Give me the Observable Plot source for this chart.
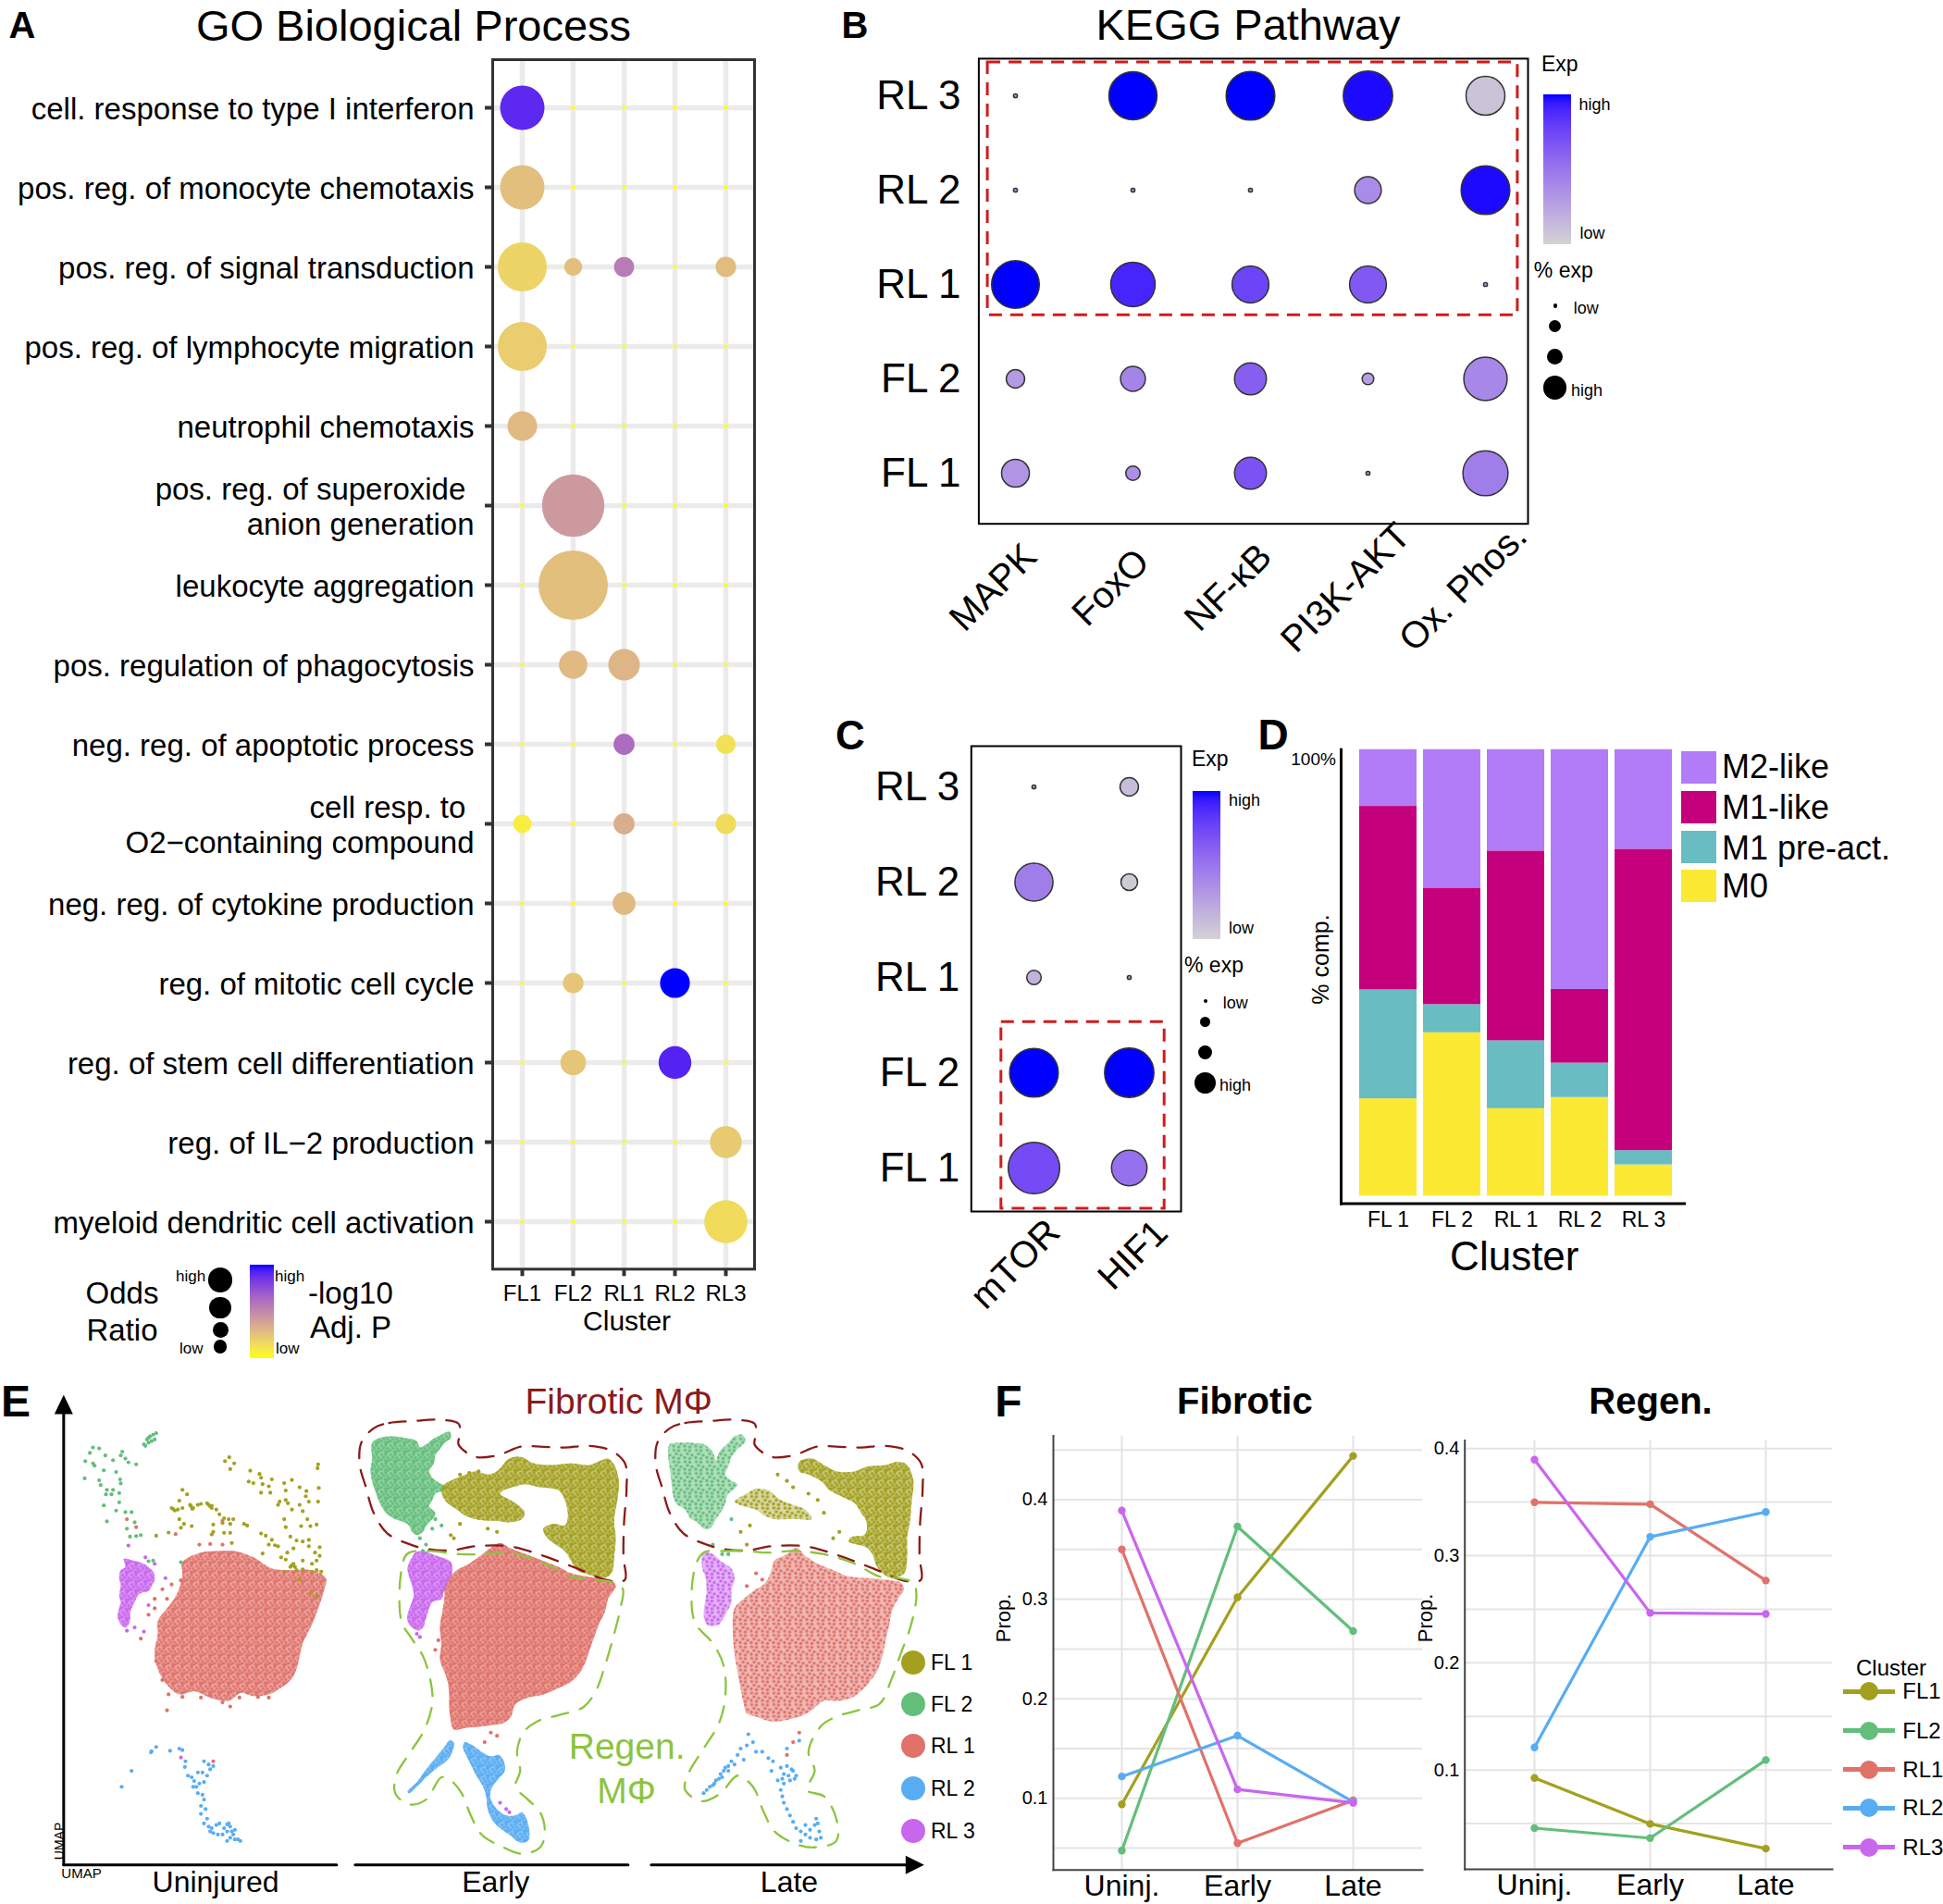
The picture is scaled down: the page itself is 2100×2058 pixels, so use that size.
<!DOCTYPE html>
<html>
<head>
<meta charset="utf-8">
<script src="https://cdn.jsdelivr.net/npm/d3@7"></script>
<script src="https://cdn.jsdelivr.net/npm/@observablehq/plot@0.6"></script>
<style>
html,body{margin:0;padding:0;background:#fff;}
#page{position:relative;width:2100px;height:2058px;overflow:hidden;background:#fff;font-family:"Liberation Sans",Arial,Helvetica,sans-serif;}
</style>
</head>
<body>
<div id="page"></div>
<script>
// ---------------- DATA ----------------
// Panel A: GO Biological Process
const clustersA = ["FL1","FL2","RL1","RL2","RL3"];
const goTerms = [
  "cell. response to type I interferon",
  "pos. reg. of monocyte chemotaxis",
  "pos. reg. of signal transduction",
  "pos. reg. of lymphocyte migration",
  "neutrophil chemotaxis",
  "pos. reg. of superoxide\u00a0\nanion generation",
  "leukocyte aggregation",
  "pos. regulation of phagocytosis",
  "neg. reg. of apoptotic process",
  "cell resp. to\u00a0\nO2\u2212containing compound",
  "neg. reg. of cytokine production",
  "reg. of mitotic cell cycle",
  "reg. of stem cell differentiation",
  "reg. of IL\u22122 production",
  "myeloid dendritic cell activation"
];
const goOddsRatio = [
  [36, 0.28, 0.28, 0.28, 0.28],
  [36, 0.28, 0.28, 0.28, 0.28],
  [44, 5.9, 7.3, 0.28, 7.7],
  [44, 0.28, 0.28, 0.28, 0.28],
  [16, 0.28, 0.28, 0.28, 0.28],
  [0.28, 71, 0.28, 0.28, 0.28],
  [0.28, 88, 0.28, 0.28, 0.28],
  [0.28, 14.7, 18.2, 0.28, 0.28],
  [0.28, 0.28, 8.1, 0.28, 7],
  [6.3, 0.28, 8.1, 0.28, 7.7],
  [0.28, 0.28, 9.6, 0.28, 0.28],
  [0.28, 7.7, 0.28, 16.2, 0.28],
  [0.28, 11.9, 0.28, 19.6, 0.28],
  [0.28, 0.28, 0.28, 0.28, 18.5],
  [0.28, 0.28, 0.28, 0.28, 34]
];
const goNegLogP = [
  [0.9, 0, 0, 0, 0],
  [0.27, 0, 0, 0, 0],
  [0.18, 0.27, 0.56, 0, 0.28],
  [0.21, 0, 0, 0, 0],
  [0.29, 0, 0, 0, 0],
  [0, 0.43, 0, 0, 0],
  [0, 0.27, 0, 0, 0],
  [0, 0.29, 0.31, 0, 0],
  [0, 0, 0.62, 0, 0.13],
  [0.07, 0, 0.34, 0, 0.15],
  [0, 0, 0.29, 0, 0],
  [0, 0.24, 0, 1.0, 0],
  [0, 0.24, 0, 0.92, 0],
  [0, 0, 0, 0, 0.22],
  [0, 0, 0, 0, 0.15]
];

// Panel B: KEGG
const keggRows = ["RL 3","RL 2","RL 1","FL 2","FL 1"];
const pathways = ["MAPK","FoxO","NF-\u03baB","PI3K-AKT","Ox. Phos."];
const keggPctExp = [
  [0.5, 75, 77, 79, 49],
  [0.5, 0.5, 0.5, 23, 77],
  [74, 64, 44, 44, 0.5],
  [11, 20, 33, 4.4, 61],
  [25, 6.6, 33, 0.5, 66]
];
const keggExp = [
  [0.3, 1.0, 1.0, 0.98, 0.08],
  [0.3, 0.3, 0.3, 0.38, 0.98],
  [1.0, 0.9, 0.75, 0.65, 0.3],
  [0.3, 0.42, 0.62, 0.28, 0.4],
  [0.33, 0.36, 0.68, 0.3, 0.45]
];

// Panel C: mTOR / HIF1
const genesC = ["mTOR","HIF1"];
const cPctExp = [[0.5, 11],[47, 9],[6.8, 0.5],[77, 79],[86, 41]];
const cExp = [[0.3, 0.12],[0.45, 0.04],[0.18, 0.3],[1, 1],[0.72, 0.52]];

// Panel D: composition
const clustersD = ["FL 1","FL 2","RL 1","RL 2","RL 3"];
const statesD = ["M2-like","M1-like","M1 pre-act.","M0"];
const colorsD = ["#b27bf7","#c4007c","#69bdc2","#fbe934"];
const compM0 = [0.218, 0.366, 0.196, 0.221, 0.070];
const compPre = [0.244, 0.063, 0.152, 0.077, 0.032];
const compM1 = [0.411, 0.261, 0.425, 0.165, 0.675];
const compM2 = [0.127, 0.310, 0.227, 0.537, 0.223];

// Panel F: proportions
const timesF = ["Uninj.","Early","Late"];
const clustersF = ["FL1","FL2","RL1","RL2","RL3"];
const colorsF = ["#a3a01f","#63be7b","#e0726a","#58acf2","#c966ee"];
const fibroticProp = [
  [0.094, 0.302, 0.444],
  [0.0475, 0.373, 0.268],
  [0.350, 0.055, 0.098],
  [0.122, 0.163, 0.0965],
  [0.389, 0.109, 0.0955]
];
const regenProp = [
  [0.0926, 0.0497, 0.0266],
  [0.0457, 0.0364, 0.1093],
  [0.3498, 0.348, 0.2768],
  [0.121, 0.3176, 0.3408],
  [0.3896, 0.2466, 0.2456]
];

// Panel E: UMAP (read-off shapes in UMAP units)
const uninjRL1 = [[41,-57.5],[47,-54.5],[52,-54],[58,-54],[64,-56],[70,-59.5],[76,-60],[83,-60],[87.5,-62.5],[87,-66],[85,-72],[83,-77],[80,-83],[79,-87],[78,-91],[76,-94.5],[72,-97.5],[69,-99],[64,-99.5],[60,-98.5],[56,-101],[50,-100],[45,-98],[40,-99],[36,-96],[33,-91],[32,-86],[33,-80],[33,-76],[36,-72],[39,-68],[41,-62]];
const uninjRL3 = [[22,-56.5],[25,-57],[28,-57.8],[30,-59],[31.5,-60.5],[32,-63],[31,-65],[30,-66.5],[28,-67],[26.5,-68],[25.5,-70],[24.5,-72],[24,-74],[24,-76],[22.5,-78],[21,-77],[20,-74.5],[20.5,-72],[21,-70],[20.5,-68],[21,-65],[20.5,-62],[21,-60],[22.5,-59]];
const uninjFL2pts = [[29.5,-19],[30.5,-18],[31.5,-17.5],[32,-19],[30,-20],[28.5,-20.5],[31,-19.5],[29,-21],[32.5,-17],[30,-18.5],[12,-21.5],[14,-21.8],[11,-23.2],[16,-24],[18.5,-25.5],[21,-24],[21.5,-22.8],[22.5,-25],[23.5,-26.2],[26,-26.8],[9.5,-25.8],[12,-26.5],[12.5,-27.2],[15.5,-28.7],[19.5,-29.2],[9.3,-31.2],[14,-31.8],[20.8,-31.5],[21,-32.8],[14.5,-33.3],[16.5,-34.8],[18.5,-34.8],[18,-36.2],[16.2,-36.2],[20.5,-35.8],[15.5,-39.7],[20.5,-38.7],[19.5,-41.3],[22.5,-41.8],[24.5,-41.8],[16.5,-44.7],[23,-47],[25.5,-45],[24,-49.5],[26,-49.3],[27.5,-49],[30,-57.2],[31.5,-57],[40.5,-57.5]];
const uninjFL1pts = [[54.8,-25.8],[56.2,-24.6],[57.8,-26.5],[56.5,-28.3],[63,-28.8],[66,-29.8],[66.5,-31],[62.5,-32.2],[64,-32.7],[67,-33],[69,-33.7],[70,-31.5],[66.5,-35.7],[69.5,-35.7],[74,-32.7],[76.5,-31.7],[74.5,-35],[79,-34],[81.2,-35.2],[85,-26.8],[84.8,-28],[85.2,-34.2],[41,-34.8],[42.5,-36.2],[40,-38.2],[37.5,-40.5],[39.5,-41],[41,-40.5],[43.5,-39.5],[44.5,-40.5],[46,-39.5],[47,-39.2],[49,-39],[50.5,-39.8],[52,-41],[53,-42.5],[54.5,-43.7],[56,-44],[57.5,-44],[54,-45.2],[56.5,-45.5],[61,-45.5],[62,-46],[40,-44],[41.5,-45.5],[40.5,-46.7],[44,-46.2],[51,-45.7],[51,-48],[54.5,-48.3],[56.5,-48.3],[50.5,-48.8],[57,-51.5],[32.5,-49.2],[36.5,-48.2],[72,-39.5],[72.5,-38.5],[74.5,-38],[75.2,-39],[76.5,-41],[79,-39.5],[80,-41.5],[82,-38.5],[81,-36.8],[85,-38.5],[81.5,-44],[79.5,-46.2],[82.5,-46.2],[84.5,-45.7],[74,-44],[74.5,-46.5],[66.5,-48.5],[68,-49.2],[70,-50.5],[71,-52.2],[69,-52],[72,-52.5],[76,-49.5],[78,-50.7],[80,-51],[82,-50.5],[82,-52.5],[77,-53.2],[75,-54.5],[73,-56],[74.5,-56.7],[67,-54.8],[85.5,-52.8],[84,-54.5],[85.5,-55.5],[84.5,-57],[80,-57],[77,-58],[76,-59],[78,-60],[80,-59.8],[83,-58],[84.5,-60],[86,-60.5],[74,-60.5],[79,-63],[83,-60.5],[82.5,-67.2],[84.5,-68.2],[43.8,-40],[44.2,-40.8],[50,-40],[50.5,-40.5],[49.5,-39.5],[38,-40.8],[38.5,-41.3],[76.5,-58.5],[77.5,-59]];
const uninjRL3pts = [[23.5,-52.3],[29,-56],[32,-58],[35.5,-62.5],[30,-71],[28.5,-79.3],[23,-79],[25.5,-78],[40.5,-118.8]];
const uninjRL1pts = [[46.5,-52],[50,-51.8],[54,-52],[40.5,-63.2],[34.5,-66],[36,-69],[37.5,-64.5],[32,-69],[32,-72],[30,-74],[27.5,-81.5],[36,-104],[32.5,-88.5],[34.5,-94.5],[36.5,-99],[41,-99.8],[44,-95.8],[47,-100],[50,-99.2],[54,-101.5],[56.5,-102.8],[59.5,-100],[65.5,-99.8],[69,-100],[23,-44],[26,-46.5],[38.8,-48.7],[54,-44.5],[51,-120]];
const uninjRL2pts = [[31,-116.8],[32.5,-115.5],[30.8,-117.2],[37,-116.7],[40,-116],[41,-116.5],[24.5,-123],[21.3,-128],[42,-120],[41.8,-121.8],[42.8,-124.5],[44,-125],[44.8,-126.2],[46,-123.5],[47.5,-123.5],[48,-120],[49.5,-121],[51,-121.5],[50,-122.5],[49,-124.5],[46.5,-127],[48,-126.5],[44.5,-128],[45.5,-128],[46,-130],[47.5,-130.5],[48,-132],[47,-134],[48.5,-135],[47,-136.5],[49,-138],[48,-139.5],[49.5,-140.5],[50.5,-141],[51,-142.5],[52.5,-143],[53,-139.5],[54.5,-141],[55.5,-139.8],[56,-139.5],[56.5,-140.5],[57,-142],[57.5,-143],[58,-144.5],[59,-144.5],[59.8,-145],[55.5,-145],[54,-143],[52,-140],[50,-142],[55.5,-142],[56.5,-144],[58,-141.5]];

const earlyFL2 = [[9.5,-20],[12,-18.5],[16,-18],[20,-18.5],[24,-19.5],[25,-21.5],[27,-20.5],[29,-19],[32,-17.5],[34.5,-16.5],[35,-18.5],[33,-20],[31.5,-22],[30,-24],[29.5,-26.5],[28,-29],[29,-31],[32,-33],[34.5,-34],[33,-35],[30,-36],[29,-38],[28,-40],[30,-42],[29,-44],[27,-46],[26,-48],[24,-49],[22.5,-48],[21.5,-46],[20,-45],[17,-44],[14,-42],[12,-39],[10.5,-35],[9.5,-32],[9,-29],[9.5,-25]];
const earlyFL1 = [[33,-33],[36,-31.5],[40,-30],[43,-29],[47,-30],[50,-29],[54,-25],[58,-24.5],[62,-26.5],[68,-27],[74,-26.5],[80,-27],[84,-25.5],[86,-25],[88,-27],[89.5,-32],[89,-38],[88,-44],[88.5,-50],[88,-56],[87.5,-60],[86,-62],[83,-62.5],[80,-61.5],[76,-60],[74,-57],[72,-54],[69,-52],[66,-49.5],[65,-47],[68,-45.5],[72,-46],[73,-43],[72,-38],[70,-35],[64,-34],[59,-33],[55,-34],[52,-35],[51,-36],[56,-39],[59,-42],[58,-44],[54,-45],[50,-44.5],[47,-44.5],[43,-44],[40,-43],[37,-41],[34,-39],[32.5,-37],[32,-34.5]];
const earlyRL3 = [[23.5,-54.5],[26,-54],[29,-55],[32,-56],[35,-57.5],[35.5,-60],[34.5,-63],[33,-66],[32,-69],[29,-70],[28,-72],[27,-75],[26,-78],[24.5,-79],[22.5,-78],[21,-76],[21,-74],[22,-71],[23,-68],[22.5,-65],[21.5,-62],[21,-59],[22.5,-56]];
const earlyRL1 = [[33,-64],[37,-60],[41,-58],[44,-56],[48,-53],[51,-51.5],[54,-53],[58,-54.5],[62,-56],[66,-57.5],[70,-59],[74,-61],[79,-62],[83,-62.5],[87,-63],[88.5,-65],[86,-69],[85,-73],[83,-77],[81.5,-81],[80,-85],[79,-88],[77,-92],[74,-95],[70,-97],[65,-99],[60,-100],[56,-102],[54.5,-106],[52,-108],[49,-108.5],[45,-109],[40,-109.5],[36,-110],[35,-107],[34.5,-103],[34.5,-99],[34,-95],[33,-92],[31.5,-88],[32,-83],[31.5,-78],[32.5,-72],[33,-68]];
const earlyRL2a = [[21,-129.5],[24,-126.5],[27,-122.5],[30,-119],[33,-115.5],[34.5,-113.5],[36,-114],[35.5,-117],[34,-119.5],[30,-122.5],[27,-125],[24,-128],[21.5,-130]];
const earlyRL2b = [[39.5,-114],[42,-115],[45,-117],[48,-118.5],[50.5,-118],[52,-119.5],[52.5,-123],[50,-126],[48,-129],[48,-132],[50,-135],[53,-137],[56,-137],[58,-136],[59.5,-138],[60.5,-142],[60,-145],[57.5,-145.5],[54,-143],[51,-141],[48.5,-138.5],[47,-135],[46.5,-131],[45.5,-128],[43,-124],[41.5,-121],[40,-118],[39,-116]];
const earlyFL1pts = [[35,-49],[36,-50],[38,-45.5],[47,-47],[50,-48],[44,-29],[41,-29.5],[38,-30]];
const earlyFL2pts = [[26,-54],[27,-52],[25,-50],[30,-44],[32,-46],[29,-47]];
const earlyRL1pts = [[48,-111],[50,-112],[46,-114],[30,-85],[31,-82]];
const earlyRL3pts = [[51,-133],[53,-135],[54,-136],[24,-80],[25,-81]];
const fibroticOutline = [[10,-15.5],[15,-13.8],[23,-13.2],[31,-12.8],[37.5,-14],[38,-17],[37.5,-20.5],[40,-23],[43,-24.5],[50,-24],[58,-21.2],[65,-21.3],[72,-21.5],[80,-21],[87,-22.5],[91.5,-26.5],[92,-34.5],[91.2,-45],[91,-56],[91.5,-63],[87,-63.5],[76,-59.5],[65,-55.5],[54,-52.5],[43,-52.5],[35,-53.8],[28,-53.5],[22,-52],[14.5,-48.5],[10,-42],[7.5,-34],[5.5,-27],[6,-20]];
const earlyRegenOutline = [[21,-54.8],[28,-54],[38,-55],[46,-55],[54,-54.5],[60,-56],[68,-59],[74,-62],[80,-62.8],[88,-64],[90.8,-66],[90,-72],[88,-80],[85,-90],[82,-98],[78,-103],[70,-105.5],[63,-107.5],[58.5,-111],[56.5,-117],[57.5,-123],[56,-128],[60,-132],[64,-136],[65.5,-142],[64,-147],[58,-149],[51,-146.5],[45,-143],[41.5,-137],[38.5,-130],[35,-126],[32,-125],[27,-132],[21.5,-133.5],[17,-130],[17.5,-124],[22,-117],[26.5,-110],[29,-102],[28.5,-95],[26,-87],[22,-81],[19,-76],[19,-60]];

const lateFL2 = [[10,-20.5],[13,-20],[17,-20],[21,-20.5],[24,-23],[25,-25.5],[26,-23],[29,-20],[31,-18],[33.5,-17.5],[34.5,-19.5],[32,-22],[30,-24.5],[29,-27.5],[28,-30],[30,-32],[32,-33],[31,-34.5],[29,-36],[28,-39],[27,-41],[25,-44],[23,-47],[21,-47],[19,-45],[17,-44],[15,-41],[12,-39],[11,-36],[10.5,-32],[10,-28],[9.5,-24]];
const lateFL1a = [[31,-38.5],[35,-36],[38,-34.5],[42,-35],[46,-38],[50,-39.5],[54,-41],[56,-44],[52,-44],[48,-44],[44,-44],[41,-43],[38,-41],[34,-40]];
const lateFL1b = [[52,-26],[56,-25],[60,-27],[64,-29],[70,-29],[74,-27.5],[80,-27],[84,-26],[87,-27],[89,-32],[88.5,-38],[88,-44],[87,-50],[87,-56],[86,-61],[82,-62.5],[79,-61],[77,-58.5],[76,-55.5],[74,-53],[71,-52],[68,-51],[69,-49.5],[73,-49],[74,-47],[73.5,-44],[72,-42],[70,-39],[66,-37],[62,-35],[59,-32],[55,-30],[52,-29]];
const lateRL3 = [[21,-54.5],[24,-55],[27,-57.5],[30,-59.5],[31,-63],[30,-66],[30,-70],[28,-74],[26,-77],[24,-77.5],[22,-77],[21,-74],[21.5,-70],[22,-66],[21.5,-62],[20.5,-59]];
const lateRL1 = [[31,-72],[34,-69],[38,-66],[41,-64],[43,-60],[44,-57],[48,-55],[51,-53],[54,-55.5],[58,-58],[63,-60],[68,-62],[74,-62.5],[80,-63],[85,-64],[86,-66],[84,-69],[82,-73],[81,-78],[80,-82],[79,-87],[77,-92],[74,-96],[70,-99.5],[65,-101],[60,-101],[56,-104],[52,-106],[48,-107],[43,-107.5],[38,-106],[35,-105],[34,-102],[33,-97],[32,-92],[31,-86],[30.5,-80]];
const lateRL2pts = [[21,-130],[23,-128],[25,-126],[26.5,-124],[28,-122],[30,-120],[32,-118],[33,-116],[35,-115],[35.5,-111.5],[37,-114],[38,-117],[34,-119.5],[31,-121],[29,-123],[27,-125],[24.5,-127],[40,-117],[42,-119],[43.5,-120],[43,-123],[46,-122],[48,-121.5],[50,-123],[51,-124.5],[49,-126],[47,-127],[45,-126],[46,-129],[46.5,-131],[47,-133],[48,-135],[49,-137],[50,-139],[51,-141],[52.5,-142],[54,-143],[55.5,-144],[57.5,-144.5],[59,-144],[58.5,-142],[58,-139.5],[57.5,-138],[57,-140],[55.5,-141.5],[54,-140],[52.5,-145],[52,-113.5],[48,-116],[47,-124],[48.5,-124.5],[49.5,-122.5],[46.5,-125.5],[50.5,-125.5],[22,-129],[24,-127.5],[26,-125.5],[27.5,-123],[29,-121.5]];
const lateFL1pts = [[45,-30],[48,-32],[50,-34],[55,-36],[58,-38],[60,-42],[65,-48],[63,-50],[36,-46],[35,-52],[33,-48]];
const lateFL2pts = [[27,-55],[29,-55],[24,-52],[30,-44]];
const lateRL1pts = [[40,-63],[38,-61],[35,-65],[52,-111],[50,-114],[48,-118]];
const lateRegenOutline = [[21,-54.5],[28,-54],[35,-54],[42,-54.5],[50,-54],[60,-55],[70,-58],[78,-62],[84,-62.5],[89,-64],[90,-68],[88,-78],[85,-86],[82,-94],[78,-102],[71,-104],[64,-106],[59,-109],[55,-117],[57,-123],[54.5,-129],[60,-131],[64,-138],[64,-145],[57,-147],[51,-146],[44,-142],[40.5,-136],[37,-128],[32,-124.5],[26.5,-130],[20.5,-132.5],[15,-129],[16,-124],[21,-116],[26,-108],[28,-100],[27.5,-90],[24,-83],[18,-76],[18,-60]];

// ---------------- HELPERS ----------------
const FONT = '"Liberation Sans", Arial, Helvetica, sans-serif';
const page = document.getElementById("page");
const baseStyle = {background: "transparent", fontFamily: FONT, overflow: "visible", color: "#000"};
function place(node, left, top) {
  node.style.position = "absolute";
  node.style.left = left + "px";
  node.style.top = top + "px";
  node.style.maxWidth = "none";
  page.appendChild(node);
}
function label(s, x, y, size, o = {}) {
  const d = document.createElement("div");
  d.textContent = s;
  Object.assign(d.style, {position: "absolute", left: x + "px", top: y + "px", fontSize: size + "px",
    lineHeight: "1", whiteSpace: "pre", fontWeight: o.bold ? "bold" : "normal", color: o.color || "#000", fontFamily: FONT});
  const tx = o.anchor === "start" ? "0" : o.anchor === "end" ? "-100%" : "-50%";
  d.style.transform = `translate(${tx},-50%)` + (o.rotate ? ` rotate(${o.rotate}deg)` : "");
  page.appendChild(d);
}
function box(x, y, w, h, bg) {
  const d = document.createElement("div");
  Object.assign(d.style, {position: "absolute", left: x + "px", top: y + "px", width: w + "px", height: h + "px", background: bg});
  page.appendChild(d);
}
function circle(cx, cy, r, color) {
  const d = document.createElement("div");
  Object.assign(d.style, {position: "absolute", left: (cx - r) + "px", top: (cy - r) + "px", width: 2 * r + "px", height: 2 * r + "px", background: color, borderRadius: "50%"});
  page.appendChild(d);
}
function gradient(interp) {
  return "linear-gradient(to top," + d3.range(0, 1.0001, 0.05).map(t => interp(t)).join(",") + ")";
}
const yb = d3.interpolateLab("yellow", "blue");
const gb = d3.interpolateLab("lightgrey", "blue");

// ---------------- PANEL A ----------------
const goData = goTerms.flatMap((t, i) => clustersA.map((c, j) => ({term: t, cluster: c, or: goOddsRatio[i][j], p: goNegLogP[i][j]})));
place(Plot.plot({
  width: 830, height: 1450, marginLeft: 532, marginRight: 15, marginTop: 64, marginBottom: 78.7,
  style: baseStyle,
  x: {type: "point", domain: clustersA, padding: 0.57},
  y: {type: "point", domain: goTerms, padding: 0.585},
  r: {type: "sqrt", domain: [0, 100], range: [0, 40]},
  color: {type: "linear", domain: [0, 1], range: ["yellow", "blue"], interpolate: d3.interpolateLab},
  marks: [
    Plot.gridX(clustersA, {stroke: "#ebebeb", strokeOpacity: 1, strokeWidth: 5.5}),
    Plot.gridY(goTerms, {stroke: "#ebebeb", strokeOpacity: 1, strokeWidth: 5.5}),
    Plot.dot(goData, {x: "cluster", y: "term", r: "or", fill: "p"}),
    Plot.frame({stroke: "#333", strokeWidth: 3}),
    Plot.axisY({tickSize: 8, tickPadding: 12, fontSize: 33, stroke: "#333", strokeWidth: 4, label: null, lineHeight: 1.18}),
    Plot.axisX({tickSize: 8, tickPadding: 9, fontSize: 24, stroke: "#333", strokeWidth: 4, label: null})
  ]
}), 0, 0);
label("A", 24, 27, 40, {bold: true});
label("GO Biological Process", 447, 27, 47);
label("Cluster", 677.6, 1428, 30);
// legend A
label("Odds", 92.6, 1396.5, 33, {anchor: "start"});
label("Ratio", 93.5, 1436.7, 33, {anchor: "start"});
circle(238, 1383.4, 13.2, "#000");
circle(238, 1413.5, 11.9, "#000");
circle(238, 1437.7, 8.5, "#000");
circle(238, 1455.5, 7.2, "#000");
label("high", 190, 1378.6, 17, {anchor: "start"});
label("low", 194, 1457, 17, {anchor: "start"});
box(270, 1366.5, 25.5, 101, gradient(yb));
label("high", 297, 1378.6, 17, {anchor: "start"});
label("low", 298, 1457, 17, {anchor: "start"});
label("-log10", 333, 1396.5, 33, {anchor: "start"});
label("Adj. P", 335, 1434, 33, {anchor: "start"});

// ---------------- PANEL B ----------------
const keggData = keggRows.flatMap((r, i) => pathways.map((p, j) => ({row: r, path: p, pct: keggPctExp[i][j], exp: keggExp[i][j]})));
place(Plot.plot({
  width: 780, height: 720, marginLeft: 157.4, marginRight: 29, marginTop: 62.9, marginBottom: 154.3,
  style: baseStyle,
  x: {type: "point", domain: pathways, padding: 0, insetLeft: 39, insetRight: 46, axis: null},
  y: {type: "point", domain: keggRows, padding: 0, insetTop: 39.1, insetBottom: 54.7},
  r: {type: "sqrt", domain: [0, 100], range: [0, 30]},
  color: {type: "linear", domain: [0, 1], range: ["lightgrey", "blue"], interpolate: d3.interpolateLab},
  marks: [
    Plot.frame({stroke: "#000", strokeWidth: 2}),
    Plot.frame({stroke: "#d01c1c", strokeWidth: 3, strokeDasharray: "14,9", insetLeft: 9.2, insetRight: 11.6, insetTop: 3.7, insetBottom: 225.9}),
    Plot.dot(keggData, {x: "path", y: "row", r: "pct", fill: "exp", stroke: "#333", strokeWidth: 1.5}),
    Plot.axisY({tickSize: 0, tickPadding: 19.4, fontSize: 44, label: null}),
    Plot.text(pathways, {x: d => d, text: d => d, frameAnchor: "bottom", dx: -24, dy: 69, rotate: -45, fontSize: 40, textAnchor: "middle", lineAnchor: "middle"})
  ]
}), 900, 0);
label("B", 924, 27, 40, {bold: true});
label("KEGG Pathway", 1349, 26, 47);
label("Exp", 1666, 69, 23, {anchor: "start"});
box(1667.5, 102.4, 30.5, 161.6, gradient(gb));
label("high", 1706.6, 112.5, 18, {anchor: "start"});
label("low", 1707.6, 251.6, 18, {anchor: "start"});
label("% exp", 1657.8, 291.6, 23, {anchor: "start"});
circle(1680.7, 330.6, 2.2, "#000");
circle(1680.7, 352.7, 6.5, "#000");
circle(1680.7, 385.7, 8.6, "#000");
circle(1680.7, 419, 12.6, "#000");
label("low", 1700.8, 333, 18, {anchor: "start"});
label("high", 1698, 421.5, 18, {anchor: "start"});

// ---------------- PANEL C ----------------
const cData = keggRows.flatMap((r, i) => genesC.map((g, j) => ({row: r, gene: g, pct: cPctExp[i][j], exp: cExp[i][j]})));
place(Plot.plot({
  width: 420, height: 700, marginLeft: 169.3, marginRight: 24, marginTop: 46, marginBottom: 151,
  style: baseStyle,
  x: {type: "point", domain: genesC, padding: 0, insetLeft: 67.7, insetRight: 55.3, axis: null},
  y: {type: "point", domain: keggRows, padding: 0, insetTop: 43.3, insetBottom: 46.8},
  r: {type: "sqrt", domain: [0, 100], range: [0, 30]},
  color: {type: "linear", domain: [0, 1], range: ["lightgrey", "blue"], interpolate: d3.interpolateLab},
  marks: [
    Plot.frame({stroke: "#000", strokeWidth: 2}),
    Plot.frame({stroke: "#d01c1c", strokeWidth: 3, strokeDasharray: "14,9", insetLeft: 32, insetRight: 18.3, insetTop: 297.7, insetBottom: 3.5}),
    Plot.dot(cData, {x: "gene", y: "row", r: "pct", fill: "exp", stroke: "#333", strokeWidth: 1.5}),
    Plot.axisY({tickSize: 0, tickPadding: 12.6, fontSize: 44, label: null}),
    Plot.text(["mTOR"], {x: d => d, text: d => d, frameAnchor: "bottom", dx: -20, dy: 57, rotate: -45, fontSize: 40, textAnchor: "middle", lineAnchor: "middle"}),
    Plot.text(["HIF1"], {x: d => d, text: d => d, frameAnchor: "bottom", dx: 4, dy: 47, rotate: -45, fontSize: 40, textAnchor: "middle", lineAnchor: "middle"})
  ]
}), 880, 760);
label("C", 919, 794.5, 44, {bold: true});
label("Exp", 1288, 820.3, 23, {anchor: "start"});
box(1289, 855, 30, 160, gradient(gb));
label("high", 1328, 865, 18, {anchor: "start"});
label("low", 1328, 1003, 18, {anchor: "start"});
label("% exp", 1280, 1042.6, 23, {anchor: "start"});
circle(1302.7, 1082, 2.2, "#000");
circle(1302.7, 1104, 5.5, "#000");
circle(1302.7, 1137.7, 7.7, "#000");
circle(1302.7, 1170.7, 11.7, "#000");
label("low", 1321.7, 1083.6, 18, {anchor: "start"});
label("high", 1318, 1173, 18, {anchor: "start"});

// ---------------- PANEL D ----------------
const dData = clustersD.flatMap((c, i) => [
  {cluster: c, state: "M0", value: compM0[i]},
  {cluster: c, state: "M1 pre-act.", value: compPre[i]},
  {cluster: c, state: "M1-like", value: compM1[i]},
  {cluster: c, state: "M2-like", value: compM2[i]}
]);
place(Plot.plot({
  width: 520, height: 600, marginLeft: 129, marginRight: 20, marginTop: 49.8, marginBottom: 59.4,
  style: baseStyle,
  x: {type: "band", domain: clustersD, paddingInner: 0.103, paddingOuter: 0, insetLeft: 18, insetRight: 11},
  y: {domain: [0, 1], insetBottom: 8.2},
  color: {domain: statesD, range: colorsD},
  marks: [
    Plot.barY(dData, {x: "cluster", y: "value", fill: "state", order: ["M0", "M1 pre-act.", "M1-like", "M2-like"]}),
    Plot.frame({anchor: "left", stroke: "#000", strokeWidth: 3}),
    Plot.frame({anchor: "bottom", stroke: "#000", strokeWidth: 3}),
    Plot.axisY({ticks: [1], tickFormat: () => "100%", tickSize: 0, tickPadding: 5.6, fontSize: 19, dy: 10.6, label: null}),
    Plot.axisX({tickSize: 0, tickPadding: 8.2, fontSize: 23, label: null})
  ]
}), 1320, 760);
label("D", 1376, 793.5, 46, {bold: true});
label("% comp.", 1427, 1037.4, 25, {rotate: -90});
label("Cluster", 1636.8, 1357.7, 44);
[812, 854.7, 898, 939.5].forEach((t, i) => box(1817.4, t, 37.3, 35, colorsD[i]));
[829.4, 873.4, 917, 958].forEach((c, i) => label(statesD[i], 1861, c, 36, {anchor: "start"}));

// ---------------- PANEL E ----------------
const colE = {FL1: "#a3a01f", FL2: "#63be7b", RL1: "#e0726a", RL2: "#58acf2", RL3: "#c966ee"};
// speckle patterns (scatter texture) for dense cell clouds
const tileDense = [[2,2],[6.5,1.5],[4.2,4.8],[8.3,5],[1.4,7.2],[5.8,8.4],[8.6,8.8]];
const tileSparse = [[2,2],[7,2.5],[4.5,6],[9.5,7.5],[1.5,10],[7,11]];
page.insertAdjacentHTML("beforeend",
  `<svg width="0" height="0" style="position:absolute;left:0;top:0"><defs>` +
  Object.entries(colE).map(([k, c]) =>
    `<pattern id="pd-${k}" width="10" height="10" patternUnits="userSpaceOnUse">` +
      tileDense.map(([x, y]) => `<circle cx="${x}" cy="${y}" r="1.75" fill="${c}"/>`).join("") + `</pattern>` +
    `<pattern id="ps-${k}" width="12" height="12.5" patternUnits="userSpaceOnUse">` +
      tileSparse.map(([x, y]) => `<circle cx="${x}" cy="${y}" r="1.75" fill="${c}"/>`).join("") + `</pattern>`
  ).join("") + `</defs></svg>`);
function poly(pts, c, o, dense = true) {
  return [
    Plot.line(pts, {x: d => d[0], y: d => d[1], curve: "catmull-rom-closed", fill: colE[c], fillOpacity: o, stroke: "none"}),
    Plot.line(pts, {x: d => d[0], y: d => d[1], curve: "catmull-rom-closed", fill: `url(#${dense ? "pd" : "ps"}-${c})`, stroke: "none"})
  ];
}
function pts(p, c) {
  return Plot.dot(p, {x: d => d[0], y: d => d[1], r: 2.1, fill: colE[c], stroke: "none"});
}
function outline(p, color) {
  return Plot.line(p, {x: d => d[0], y: d => d[1], curve: "catmull-rom-closed", stroke: color, strokeWidth: 2.3, strokeDasharray: "18,13", fill: "none"});
}
function axisSeg(p) {
  return Plot.line(p, {x: d => d[0], y: d => d[1], stroke: "#000", strokeWidth: 3});
}
function head(p) {
  return Plot.line(p, {x: d => d[0], y: d => d[1], fill: "#000", stroke: "none"});
}
function umap(marks) {
  return Plot.plot({width: 320, height: 540, margin: 0, style: baseStyle,
    x: {domain: [0, 96], axis: null}, y: {domain: [-156.8, 0], axis: null}, marks: marks.flat()});
}
const RED = "#8b1a1a", GREEN = "#8cc43f";
place(umap([
  poly(uninjRL1, "RL1", 0.6), poly(uninjRL3, "RL3", 0.65),
  pts(uninjRL1pts, "RL1"), pts(uninjRL3pts, "RL3"), pts(uninjFL2pts, "FL2"), pts(uninjFL1pts, "FL1"), pts(uninjRL2pts, "RL2"),
  axisSeg([[2.5, -152.5], [91, -152.5]]), axisSeg([[2.5, -152.5], [2.5, -10]]), head([[2.5, -5], [-0.5, -11], [5.5, -11]])
]), 60, 1490);
place(umap([
  poly(earlyFL2, "FL2", 0.65), poly(earlyFL1, "FL1", 0.6), poly(earlyRL1, "RL1", 0.65), poly(earlyRL3, "RL3", 0.65),
  poly(earlyRL2a, "RL2", 0.7), poly(earlyRL2b, "RL2", 0.7),
  pts(earlyFL1pts, "FL1"), pts(earlyFL2pts, "FL2"), pts(earlyRL1pts, "RL1"), pts(earlyRL3pts, "RL3"),
  outline(fibroticOutline, RED), outline(earlyRegenOutline, GREEN),
  axisSeg([[4, -152.5], [92.5, -152.5]])
]), 370, 1490);
place(umap([
  poly(lateFL2, "FL2", 0.5, false), poly(lateFL1a, "FL1", 0.4, false), poly(lateFL1b, "FL1", 0.55), poly(lateRL1, "RL1", 0.5, false), poly(lateRL3, "RL3", 0.5, false),
  pts(lateRL2pts, "RL2"), pts(lateFL1pts, "FL1"), pts(lateFL2pts, "FL2"), pts(lateRL1pts, "RL1"),
  outline(fibroticOutline, RED), outline(lateRegenOutline, GREEN),
  axisSeg([[4, -152.5], [88, -152.5]]), head([[92.5, -152.5], [86.5, -149.6], [86.5, -155.4]])
]), 690, 1490);
label("E", 17, 1515, 48, {bold: true});
label("Fibrotic M\u03a6", 668.7, 1514, 39, {color: RED});
label("Regen.", 677.6, 1887.4, 39, {color: GREEN});
label("M\u03a6", 677, 1934.8, 39, {color: GREEN});
label("UMAP", 63.5, 1990, 14, {rotate: -90});
label("UMAP", 88, 2024, 15);
label("Uninjured", 233, 2033.6, 32);
label("Early", 535.7, 2033.6, 32);
label("Late", 853, 2033.6, 32);
const legE = ["FL 1", "FL 2", "RL 1", "RL 2", "RL 3"];
[1797, 1841.7, 1887.4, 1932.8, 1979.3].forEach((y, i) => {
  circle(987, y, 13, colorsF[i]);
  label(legE[i], 1006, y, 23, {anchor: "start"});
});

// ---------------- PANEL F ----------------
function propPlot(rows, yDomain, opts) {
  const data = clustersF.flatMap((c, i) => timesF.map((t, j) => ({cluster: c, time: t, prop: rows[i][j]})));
  return Plot.plot({
    width: 500, height: 518, marginLeft: opts.ml, marginRight: opts.mr, marginTop: opts.mt, marginBottom: opts.mb,
    style: baseStyle,
    x: {type: "point", domain: timesF, padding: 0, insetLeft: opts.il, insetRight: opts.ir},
    y: {domain: yDomain},
    color: {domain: clustersF, range: colorsF},
    marks: [
      Plot.gridY(opts.grid, {stroke: "#e4e4e4", strokeOpacity: 1, strokeWidth: 2}),
      Plot.gridX(timesF, {stroke: "#e4e4e4", strokeOpacity: 1, strokeWidth: 2}),
      Plot.frame({anchor: "left", stroke: "#444", strokeWidth: 2}),
      Plot.frame({anchor: "bottom", stroke: "#444", strokeWidth: 2}),
      Plot.line(data, {x: "time", y: "prop", z: "cluster", stroke: "cluster", strokeWidth: 3.2}),
      Plot.dot(data, {x: "time", y: "prop", fill: "cluster", r: 4.2}),
      Plot.axisY({ticks: [0.1, 0.2, 0.3, 0.4], tickFormat: d => d.toFixed(1), tickSize: 0, tickPadding: opts.tp, fontSize: 20, label: null}),
      Plot.axisX({tickSize: 0, tickPadding: 5, fontSize: 32, label: null})
    ]
  });
}
place(propPlot(fibroticProp, [0.028, 0.464], {ml: 78, mr: 23, mt: 11.6, mb: 37.2, il: 73.9, ir: 74.1, tp: 6,
  grid: [0.05, 0.1, 0.15, 0.2, 0.25, 0.3, 0.35, 0.4, 0.45]}), 1060, 1540);
place(propPlot(regenProp, [0.0073, 0.4074], {ml: 82.7, mr: 20, mt: 16.6, mb: 38, il: 74.5, ir: 72, tp: 5.7,
  grid: [0.05, 0.1, 0.15, 0.2, 0.25, 0.3, 0.35, 0.4]}), 1500, 1540);
label("F", 1090, 1515, 48, {bold: true});
label("Fibrotic", 1345.4, 1514, 40, {bold: true});
label("Regen.", 1784, 1514, 40, {bold: true});
label("Prop.", 1084.9, 1748.6, 22, {rotate: -90});
label("Prop.", 1541, 1748.6, 22, {rotate: -90});
label("Cluster", 2006, 1803, 24, {anchor: "start"});
[1828, 1870.8, 1912.6, 1954, 1996.8].forEach((y, i) => {
  box(1991.6, y - 2.5, 56.4, 5, colorsF[i]);
  circle(2020, y, 10, colorsF[i]);
  label(clustersF[i], 2056.3, y, 24, {anchor: "start"});
});
</script>
</body>
</html>
